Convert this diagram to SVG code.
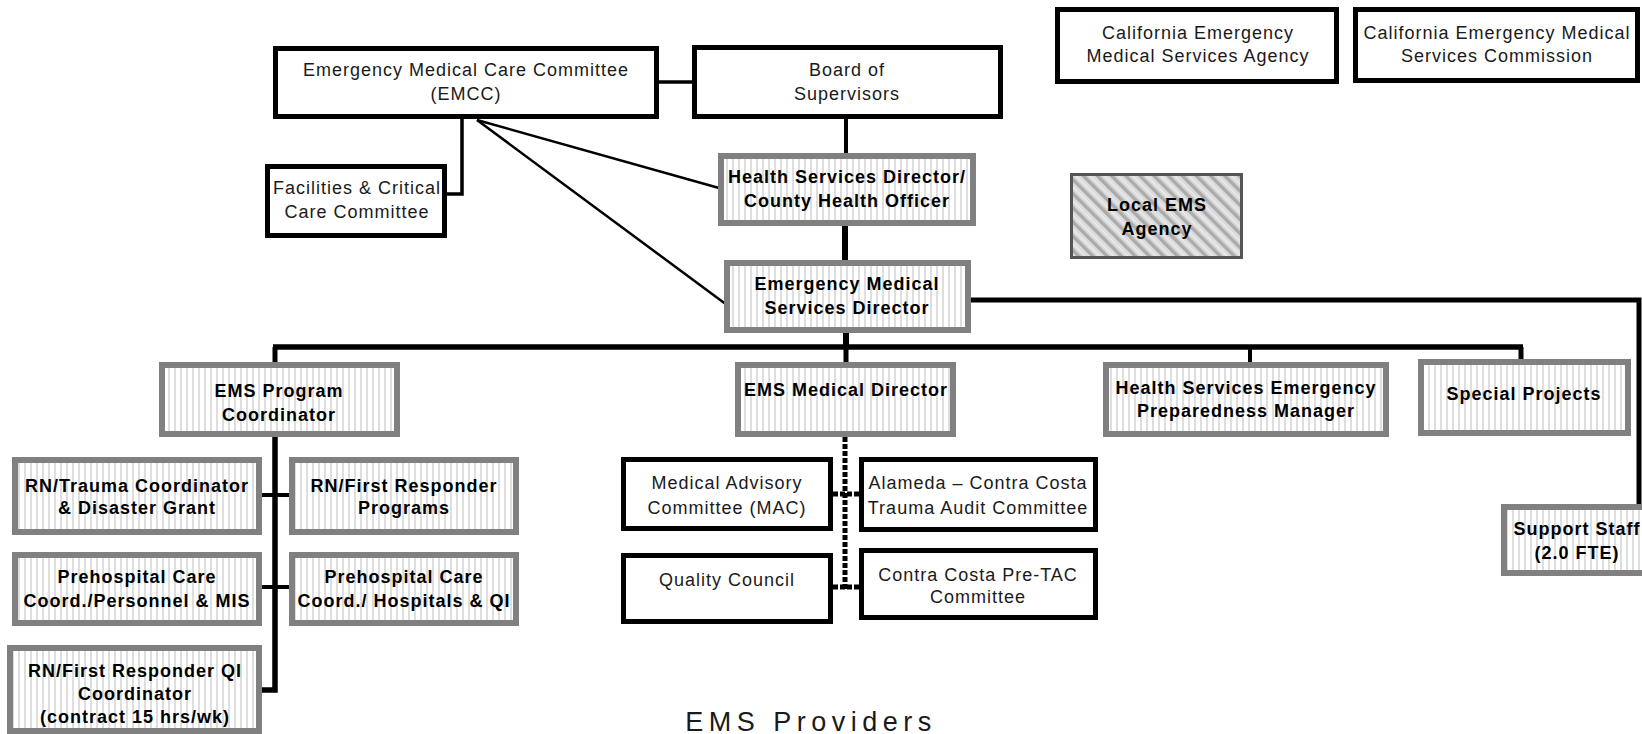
<svg xmlns="http://www.w3.org/2000/svg" width="1642" height="734" viewBox="0 0 1642 734">
<defs>
<pattern id="vstripe" patternUnits="userSpaceOnUse" width="6" height="6">
<rect width="6" height="6" fill="#ffffff"/>
<rect x="0" width="2" height="6" fill="#dedede"/>
</pattern>
<pattern id="hatch" patternUnits="userSpaceOnUse" width="10" height="10" patternTransform="rotate(-45)">
<rect width="10" height="10" fill="#dcdcdc"/>
<rect x="0" width="3.5" height="10" fill="#ababab"/>
<rect x="6" width="1" height="10" fill="#efefef"/>
</pattern>
</defs>
<style>
.bb{fill:#ffffff;stroke:#000000;stroke-width:5}
.gb{fill:url(#vstripe);stroke:#808080;stroke-width:6}
.hb{fill:url(#hatch);stroke:#555555;stroke-width:3}
text{font-family:"Liberation Sans",Arial,sans-serif;font-size:18px;letter-spacing:1px;text-anchor:middle;fill:#1a1a1a}
.b{font-weight:bold;fill:#000000}
.c{fill:none;stroke:#000000}
.dash{fill:none;stroke:#000000;stroke-width:5;stroke-dasharray:5 2}
</style>
<rect width="1642" height="734" fill="#ffffff"/>
<g id="connectors">
<path class="c" stroke-width="3.5" d="M659 82H692"/>
<path class="c" stroke-width="3.5" d="M462 119V194H447"/>
<path class="c" stroke-width="2.5" d="M477 120L719 188"/>
<path class="c" stroke-width="2.5" d="M477 120L727 305"/>
<path class="c" stroke-width="4" d="M846 119V153"/>
<path class="c" stroke-width="6" d="M845 226V260"/>
<path class="c" stroke-width="6" d="M846 333V347"/>
<path class="c" stroke-width="5.5" d="M273 347H1523"/>
<path class="c" stroke-width="5" d="M275 347V362"/>
<path class="c" stroke-width="5" d="M846 347V362"/>
<path class="c" stroke-width="4" d="M1250 347V362"/>
<path class="c" stroke-width="5" d="M1521 347V359"/>
<path class="c" stroke-width="5" d="M971 300H1639V504"/>
<path class="c" stroke-width="5.5" d="M275 437V690H262"/>
<path class="c" stroke-width="4" d="M262 495H289"/>
<path class="c" stroke-width="4" d="M262 587H289"/>
<path class="dash" d="M845 437V589"/>
<path class="dash" d="M833 494H859"/>
<path class="dash" d="M833 587H859"/>
</g>
<g id="emcc"><rect class="bb" x="275.5" y="48.5" width="381" height="68"/><text x="466" y="76">Emergency Medical Care Committee</text><text x="466" y="100">(EMCC)</text></g>
<g id="board"><rect class="bb" x="694.5" y="47.5" width="306" height="69"/><text x="847" y="76">Board of</text><text x="847" y="100">Supervisors</text></g>
<g id="facilities"><rect class="bb" x="267.5" y="166.5" width="177" height="69"/><text x="357" y="194">Facilities &amp; Critical</text><text x="357" y="218">Care Committee</text></g>
<g id="ca-agency"><rect class="bb" x="1057.5" y="9.5" width="279" height="72"/><text x="1198" y="39">California Emergency</text><text x="1198" y="62">Medical Services Agency</text></g>
<g id="ca-commission"><rect class="bb" x="1355.5" y="9.5" width="282" height="71"/><text x="1497" y="39">California Emergency Medical</text><text x="1497" y="62">Services Commission</text></g>
<g id="hsd"><rect class="gb" x="721" y="156" width="252" height="67"/><text class="b" x="847" y="183">Health Services Director/</text><text class="b" x="847" y="207">County Health Officer</text></g>
<g id="local-ems"><rect class="hb" x="1071.5" y="174.5" width="170" height="83"/><text class="b" x="1157" y="211">Local EMS</text><text class="b" x="1157" y="235">Agency</text></g>
<g id="emsd"><rect class="gb" x="727" y="263" width="241" height="67"/><text class="b" x="847" y="290">Emergency Medical</text><text class="b" x="847" y="314">Services Director</text></g>
<g id="program-coord"><rect class="gb" x="162" y="365" width="235" height="69"/><text class="b" x="279" y="397">EMS Program</text><text class="b" x="279" y="421">Coordinator</text></g>
<g id="medical-director"><rect class="gb" x="738" y="365" width="215" height="69"/><text class="b" x="846" y="396">EMS Medical Director</text></g>
<g id="hsepm"><rect class="gb" x="1106" y="365" width="280" height="69"/><text class="b" x="1246" y="394">Health Services Emergency</text><text class="b" x="1246" y="417">Preparedness Manager</text></g>
<g id="special-projects"><rect class="gb" x="1421" y="362" width="207" height="71"/><text class="b" x="1524" y="400">Special Projects</text></g>
<g id="support-staff"><rect class="gb" x="1504" y="507" width="160" height="66"/><text class="b" x="1577" y="535">Support Staff</text><text class="b" x="1577" y="559">(2.0 FTE)</text></g>
<g id="rn-trauma"><rect class="gb" x="15" y="460" width="244" height="72"/><text class="b" x="137" y="492">RN/Trauma Coordinator</text><text class="b" x="137" y="514">&amp; Disaster Grant</text></g>
<g id="rn-fr-programs"><rect class="gb" x="292" y="460" width="224" height="72"/><text class="b" x="404" y="492">RN/First Responder</text><text class="b" x="404" y="514">Programs</text></g>
<g id="prehosp-personnel"><rect class="gb" x="15" y="555" width="244" height="68"/><text class="b" x="137" y="583">Prehospital Care</text><text class="b" x="137" y="607">Coord./Personnel &amp; MIS</text></g>
<g id="prehosp-hospitals"><rect class="gb" x="292" y="555" width="224" height="68"/><text class="b" x="404" y="583">Prehospital Care</text><text class="b" x="404" y="607">Coord./ Hospitals &amp; QI</text></g>
<g id="rn-fr-qi"><rect class="gb" x="10" y="648" width="249" height="83"/><text class="b" x="135" y="677">RN/First Responder QI</text><text class="b" x="135" y="700">Coordinator</text><text class="b" x="135" y="723">(contract 15 hrs/wk)</text></g>
<g id="mac"><rect class="bb" x="623.5" y="459.5" width="207" height="69"/><text x="727" y="489">Medical Advisory</text><text x="727" y="514">Committee (MAC)</text></g>
<g id="tac"><rect class="bb" x="861.5" y="459.5" width="234" height="70"/><text x="978" y="489">Alameda – Contra Costa</text><text x="978" y="514">Trauma Audit Committee</text></g>
<g id="quality-council"><rect class="bb" x="623.5" y="555.5" width="207" height="66"/><text x="727" y="586">Quality Council</text></g>
<g id="pre-tac"><rect class="bb" x="861.5" y="550.5" width="234" height="67"/><text x="978" y="581">Contra Costa Pre-TAC</text><text x="978" y="603">Committee</text></g>
<g id="ems-providers"><text x="811" y="731" style="font-size:27px;letter-spacing:5.5px">EMS Providers</text></g>
</svg>
